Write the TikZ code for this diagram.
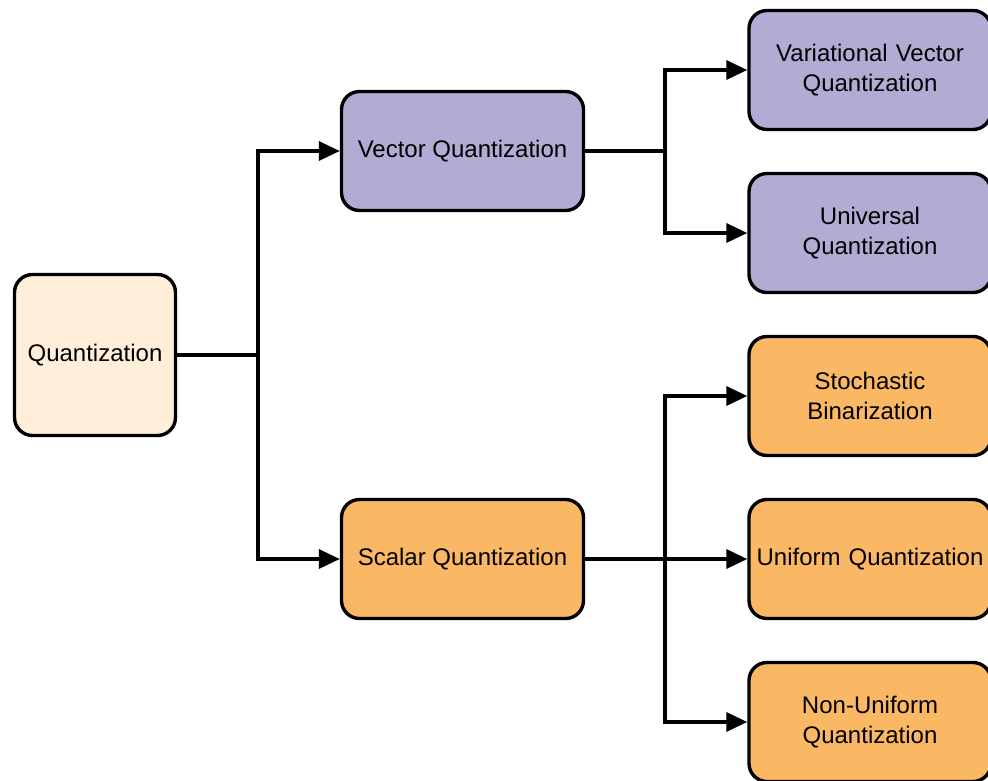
\documentclass[tikz,border=0pt]{standalone}
\usepackage{fontspec}
\setmainfont{Liberation Sans}
\usetikzlibrary{arrows.meta}
\definecolor{cream}{HTML}{FFEFDA}
\definecolor{lavender}{HTML}{B2ABD3}
\definecolor{apricot}{HTML}{FBB864}
\tikzset{
  box/.style={draw=black, line width=3.4pt, rounded corners=18pt, align=center,
    font=\fontsize{24}{30}\selectfont, inner sep=0pt},
  midbox/.style={box, minimum width=242pt, minimum height=119pt},
  leafbox/.style={box, minimum width=242pt, minimum height=119pt, text width=236pt},
  link/.style={line width=3.4pt, -{Triangle[length=21pt,width=19pt]}},
  trunk/.style={line width=3.4pt}
}
\begin{document}
\begin{tikzpicture}[x=1pt,y=-1pt]
\clip (0,0) rectangle (988,780);
\fill[white] (0,0) rectangle (988,780);

% root and second level
\node[box, fill=cream, minimum width=161pt, minimum height=161pt] (root) at (95,355) {Quantization};
\node[midbox, fill=lavender] (vq) at (462.5,151) {Vector Quantization};
\node[midbox, fill=apricot] (sq) at (462.5,559) {Scalar Quantization};

% leaves
\node[leafbox, fill=lavender] (vvq) at (870,70) {Variational Vector\\Quantization};
\node[leafbox, fill=lavender] (uq) at (870,233) {Universal\\Quantization};
\node[leafbox, fill=apricot] (sb) at (870,396) {Stochastic\\Binarization};
\node[leafbox, fill=apricot] (unq) at (870,559) {Uniform Quantization};
\node[leafbox, fill=apricot] (nuq) at (870,722) {Non-Uniform\\Quantization};

% branch points
\coordinate (j0) at (258,355);
\coordinate (j1) at (665,151);
\coordinate (j2) at (665,559);

% connectors
\draw[trunk] (root.east) -- (j0);
\draw[link] (j0) |- (vq.west);
\draw[link] (j0) |- (sq.west);

\draw[trunk] (vq.east) -- (j1);
\draw[link] (j1) |- (vvq.west);
\draw[link] (j1) |- (uq.west);

\draw[trunk] (sq.east) -- (j2);
\draw[link] (j2) |- (sb.west);
\draw[link] (j2) -- (unq.west);
\draw[link] (j2) |- (nuq.west);
\end{tikzpicture}
\end{document}
